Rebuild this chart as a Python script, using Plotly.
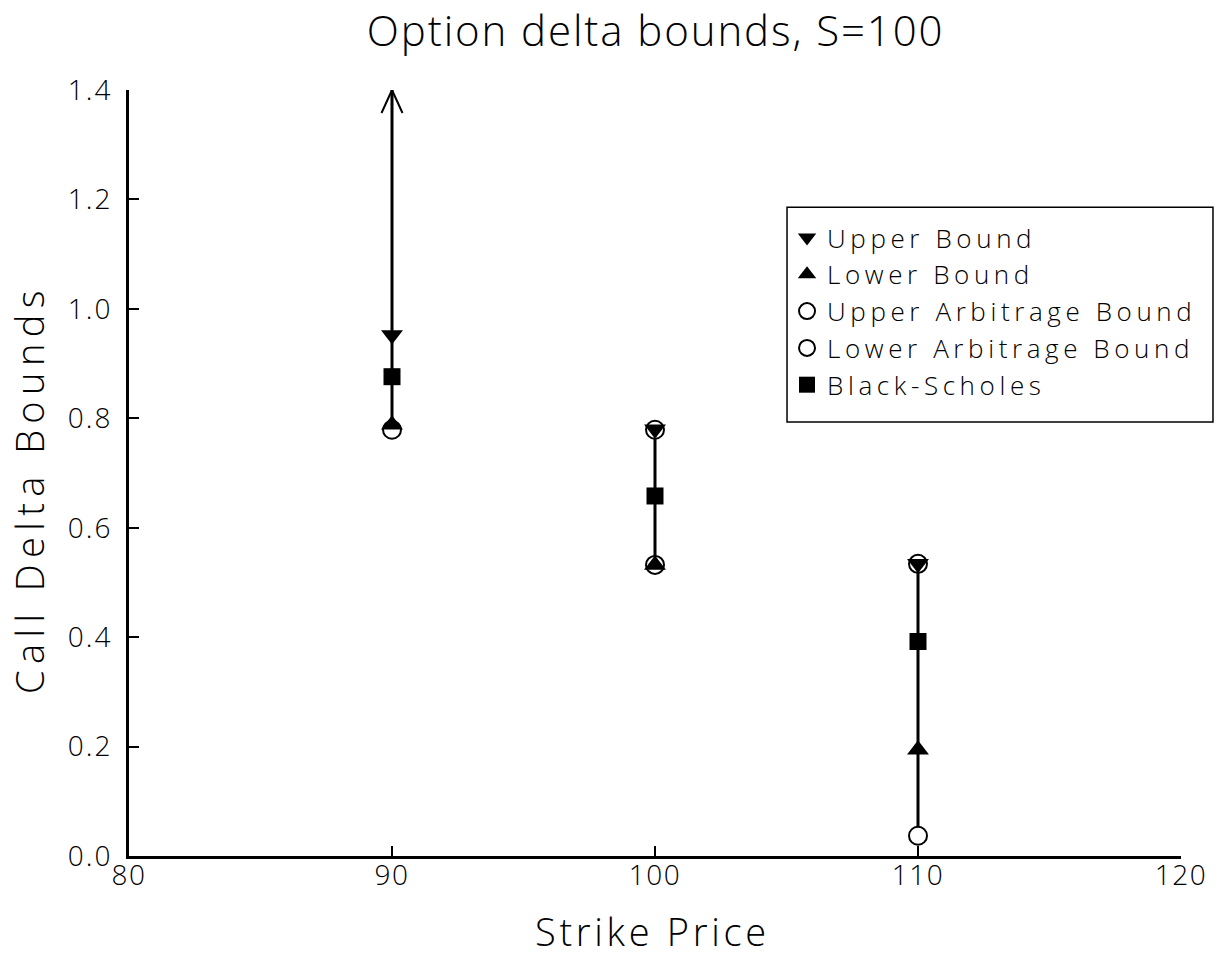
import plotly.graph_objects as go

# ---- data ----
strikes = [90, 100, 110]
upper_bound = [0.952, 0.780, 0.534]
lower_bound = [0.788, 0.532, 0.194]
upper_arbitrage = [None, 0.779, 0.534]   # unbounded at K=90 (arrow)
lower_arbitrage = [0.779, 0.532, 0.037]
black_scholes = [0.876, 0.658, 0.392]

x_range = [80, 120]
y_range = [0.0, 1.4]
x_ticks = [80, 90, 100, 110, 120]
y_ticks = [0.0, 0.2, 0.4, 0.6, 0.8, 1.0, 1.2, 1.4]

FONT = "Open Sans"
W = 300


def spaced(text, px):
    return f'<span style="letter-spacing:{px}px">{text}</span>'


# vertical range lines per strike
line_x, line_y = [], []
for k, ub, lb, ua, la in zip(strikes, upper_bound, lower_bound, upper_arbitrage, lower_arbitrage):
    vals = [v for v in (ub, lb, ua, la) if v is not None]
    top = ua if ua is not None else y_range[1]
    line_x += [k, k, None]
    line_y += [min(vals), top, None]

fig = go.Figure()
fig.add_trace(go.Scatter(x=line_x, y=line_y, mode="lines",
                         line=dict(color="black", width=3), showlegend=False,
                         hoverinfo="skip"))

LS = 4.6
circ = dict(symbol="circle", size=18, color="white", line=dict(color="black", width=2))
fig.add_trace(go.Scatter(x=strikes, y=upper_arbitrage, mode="markers",
                         name=spaced("Upper Arbitrage Bound", LS), marker=circ, legendrank=3))
fig.add_trace(go.Scatter(x=strikes, y=lower_arbitrage, mode="markers",
                         name=spaced("Lower Arbitrage Bound", LS), marker=circ, legendrank=4))
fig.add_trace(go.Scatter(x=strikes, y=upper_bound, mode="markers", name=spaced("Upper Bound", LS),
                         marker=dict(symbol="triangle-down", size=19, color="black"), legendrank=1))
fig.add_trace(go.Scatter(x=strikes, y=lower_bound, mode="markers", name=spaced("Lower Bound", LS),
                         marker=dict(symbol="triangle-up", size=19, color="black"), legendrank=2))
fig.add_trace(go.Scatter(x=strikes, y=black_scholes, mode="markers", name=spaced("Black-Scholes", LS),
                         marker=dict(symbol="square", size=17, color="black"), legendrank=5))

# open arrow head at the top of the unbounded upper arbitrage bound
fig.add_shape(type="path", xref="x", yref="y", xsizemode="pixel", ysizemode="pixel",
              xanchor=strikes[0], yanchor=y_range[1],
              path="M-10.5,-23 L0,0 L10.5,-23", line=dict(color="black", width=2))

# legend frame (drawn as a box so the padding matches the reference)
fig.add_shape(type="rect", xref="paper", yref="paper", x0=0.6255, x1=1.0304, y0=0.5666, y1=0.847,
              line=dict(color="black", width=1.5), fillcolor="rgba(0,0,0,0)", layer="above")

# axis titles
fig.add_annotation(text=spaced("Strike Price", 3.7), xref="paper", yref="paper",
                   x=0.4976, y=-0.098, xanchor="center", yanchor="middle", showarrow=False,
                   font=dict(size=38, family=FONT, weight=W))
fig.add_annotation(text=spaced("Call Delta Bounds", 6.4), xref="paper", yref="paper",
                   x=-0.0951, y=0.479, xanchor="center", yanchor="middle", showarrow=False,
                   textangle=-90, font=dict(size=38, family=FONT, weight=W))

fig.update_layout(
    width=1221, height=956,
    margin=dict(l=129, r=40, t=90, b=100, autoexpand=False),
    paper_bgcolor="white", plot_bgcolor="white",
    font=dict(family=FONT, color="black", size=28, weight=W),
    title=dict(text=spaced("Option delta bounds, S=100", 1.9), x=0.537, xanchor="center",
               y=0.9676, yanchor="middle", font=dict(size=42, family=FONT, weight=W)),
    showlegend=True,
    legend=dict(x=0.6255, y=0.838, xanchor="left", yanchor="top",
                bgcolor="rgba(0,0,0,0)", borderwidth=0,
                font=dict(size=26, family=FONT, weight=W), itemwidth=30, tracegroupgap=0),
)
fig.update_xaxes(range=x_range, tickvals=x_ticks, ticktext=[spaced(str(v), 1.5) for v in x_ticks],
                 ticks="inside", ticklen=10, tickwidth=1.5,
                 tickcolor="black", showline=True, linewidth=3, linecolor="black",
                 showgrid=False, zeroline=False, tickfont=dict(size=28, weight=W),
                 ticklabelstandoff=-8)
fig.update_yaxes(range=y_range, tickvals=y_ticks, ticktext=[spaced(f"{v:.1f}", 2) for v in y_ticks],
                 ticks="inside", ticklen=10,
                 tickwidth=1.5, tickcolor="black", showline=True, linewidth=3, linecolor="black",
                 showgrid=False, zeroline=False, tickfont=dict(size=28, weight=W),
                 ticklabelstandoff=8)

fig.write_html("out.html", config={"displayModeBar": False},
               post_script="document.body.style.margin='0px';")
